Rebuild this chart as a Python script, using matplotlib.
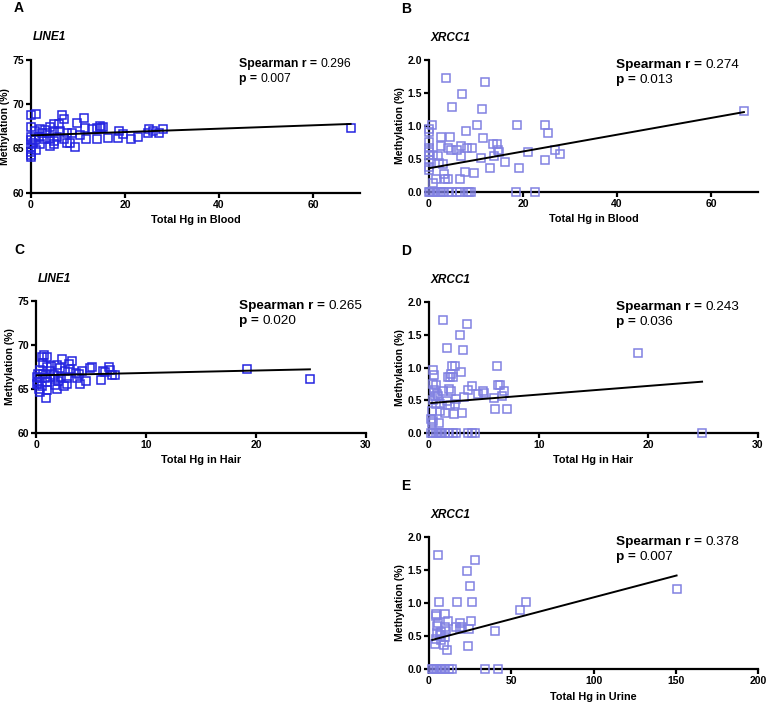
import numpy as np
import matplotlib
matplotlib.use('Agg')
import matplotlib.pyplot as plt

plt.rcParams['font.family'] = ['Liberation Sans', 'DejaVu Sans']

# ---- data ----
# A: LINE1 vs total Hg in blood
a_x = [1.1, 0.1, 6.7, 7.0, 11.3, 9.8, 0.1, 4.8, 5.9, 4.1, 11.5, 13.0, 14.1, 14.7, 15.3, 14.8,
       1.9, 3.0, 0.9, 2.3, 3.4, 4.8, 6.2, 18.8, 25.0, 28.1, 25.9, 68.0, 7.7, 8.7, 10.5, 19.5,
       24.8, 27.3, 0.1, 1.6, 4.1, 7.0, 11.6, 14.1, 16.3, 18.5, 21.3, 22.7, 0.1, 0.5, 1.9, 4.1,
       4.8, 7.7, 8.2, 9.3, 0.0, 1.1, 0.1, 0.1, 0.0, 4.8, 5.5, 2.7, 0.9]
a_y = [68.85, 68.7, 68.7, 68.25, 68.4, 67.9, 67.4, 67.7, 67.7, 67.4, 67.3, 67.2, 67.25, 67.5, 67.4, 67.3,
       67.2, 67.05, 66.9, 66.75, 66.75, 66.9, 66.9, 66.95, 67.15, 67.15, 67.0, 67.3, 66.75, 66.7, 66.5, 66.6,
       66.75, 66.7, 66.3, 66.3, 66.1, 66.1, 66.1, 66.1, 66.2, 66.2, 66.0, 66.3, 65.9, 65.6, 65.5, 65.3,
       65.5, 65.6, 65.6, 65.1, 65.2, 64.8, 64.6, 64.05, 64.2, 65.8, 66.3, 66.1, 65.9]

# B: XRCC1 vs total Hg in blood
b_x = [3.6, 11.9, 7.1, 4.8, 11.3, 67.0, 0.7, 10.3, 18.7, 24.7, 25.4, 7.8, 2.5, 4.5, 11.5,
       2.5, 6.8, 4.1, 4.7, 5.9, 8.0, 9.2, 13.6, 14.4, 14.6, 14.9, 13.8, 26.9, 27.8, 21.1,
       0.85, 1.98, 2.1, 3.0, 11.0, 6.9, 16.2, 24.7, 19.2, 12.9, 3.1, 7.6, 9.6, 3.5, 4.1,
       1.4, 6.5, 0.9, 0.0, 0.0, 0.0, 0.0, 0.0, 0.0, 0.0, 0.0, 0.0,
       0.0, 0.3, 0.6, 1.0, 1.5, 2.0, 2.5, 3.0, 4.0, 5.0, 6.0, 6.5, 8.0, 8.5, 9.0, 18.5, 22.5]
b_y = [1.72, 1.66, 1.49, 1.29, 1.26, 1.22, 1.01, 1.02, 1.01, 1.02, 0.90, 0.92, 0.84, 0.83, 0.82,
       0.69, 0.70, 0.67, 0.64, 0.63, 0.66, 0.66, 0.72, 0.72, 0.64, 0.60, 0.54, 0.64, 0.58, 0.60,
       0.56, 0.54, 0.44, 0.43, 0.51, 0.55, 0.46, 0.49, 0.37, 0.36, 0.28, 0.30, 0.29, 0.20, 0.20,
       0.20, 0.19, 0.13, 0.96, 0.91, 0.76, 0.66, 0.60, 0.56, 0.48, 0.38, 0.33,
       0.0, 0.0, 0.0, 0.0, 0.0, 0.0, 0.0, 0.0, 0.0, 0.0, 0.0, 0.0, 0.0, 0.0, 0.0, 0.0, 0.0]

# C: LINE1 vs total Hg in hair
c_x = [0.76, 0.5, 1.0, 2.4, 3.3, 3.0, 0.67, 0.97, 1.4, 1.9, 2.2, 3.1, 4.9, 5.1, 6.6, 19.2,
       4.2, 6.1, 6.3, 6.75, 0.36, 1.3, 2.6, 3.6, 3.9, 7.2, 6.9, 0.2, 0.67, 1.6, 2.3, 2.8,
       0.36, 0.8, 1.3, 1.7, 3.7, 4.5, 5.9, 24.9, 0.2, 0.97, 2.0, 4.0, 2.8, 1.7, 2.55, 0.5,
       0.3, 0.97, 1.9, 0.36, 0.9, 0.1, 0.1]
c_y = [68.84, 68.6, 68.6, 68.4, 68.2, 67.8, 67.9, 67.55, 67.6, 67.7, 67.4, 67.25, 67.4, 67.5, 67.5, 67.3,
       67.1, 67.1, 66.9, 67.2, 67.2, 67.0, 67.0, 66.8, 66.7, 66.6, 66.6, 66.7, 66.7, 66.6, 66.4, 66.2,
       66.2, 66.2, 66.35, 66.1, 66.2, 65.95, 66.0, 66.15, 65.85, 65.75, 65.95, 65.6, 65.55, 65.4, 65.3, 65.3,
       65.0, 64.85, 65.0, 64.65, 64.0, 65.6, 66.4]

# D: XRCC1 vs total Hg in hair
d_x = [1.27, 3.5, 2.85, 1.64, 3.1, 19.1, 0.36, 0.45, 2.1, 2.4, 6.2, 2.9, 2.2, 1.73, 1.9, 2.0,
       0.36, 0.67, 6.3, 6.5, 3.9, 1.8, 2.0, 1.3, 0.5, 6.85, 3.6, 4.9, 5.06, 4.45, 0.58, 0.82,
       0.76, 6.7, 3.2, 5.9, 1.67, 0.36, 2.5, 2.35, 0.67, 1.0, 1.9, 0.3, 1.0, 6.0, 7.1, 1.45,
       2.3, 3.0, 0.2, 0.36, 0.27, 0.9,
       0.2, 0.4, 0.6, 0.8, 1.0, 1.2, 1.5, 1.8, 2.2, 2.5, 3.6, 3.9, 4.2, 24.9]
d_y = [1.72, 1.66, 1.49, 1.30, 1.27, 1.22, 0.96, 0.89, 1.03, 1.03, 1.02, 0.93, 0.85, 0.85, 0.86, 0.90,
       0.75, 0.73, 0.73, 0.73, 0.72, 0.67, 0.64, 0.64, 0.66, 0.64, 0.66, 0.64, 0.61, 0.60, 0.57, 0.56,
       0.60, 0.57, 0.55, 0.54, 0.49, 0.51, 0.52, 0.45, 0.45, 0.45, 0.42, 0.34, 0.34, 0.36, 0.37, 0.31,
       0.29, 0.30, 0.22, 0.19, 0.15, 0.15,
       0.0, 0.0, 0.0, 0.0, 0.0, 0.0, 0.0, 0.0, 0.0, 0.0, 0.0, 0.0, 0.0, 0.0]

# E: XRCC1 vs total Hg in urine
e_x = [5.5, 27.7, 23.2, 25.1, 150.5, 6.1, 16.8, 26.3, 59.0, 55.2, 4.0, 4.4, 9.5, 5.5, 11.5, 25.7,
       18.8, 4.85, 9.9, 16.6, 19.8, 18.6, 24.2, 7.5, 10.1, 4.85, 40.2, 6.5, 9.7, 4.4, 7.5, 3.4,
       9.1, 23.8, 10.9,
       2, 3, 4, 5, 6, 7, 8, 10, 12, 14, 34, 42]
e_y = [1.72, 1.65, 1.48, 1.26, 1.21, 1.02, 1.02, 1.01, 1.02, 0.90, 0.84, 0.81, 0.83, 0.70, 0.72, 0.73,
       0.69, 0.65, 0.64, 0.64, 0.64, 0.61, 0.61, 0.56, 0.58, 0.54, 0.58, 0.51, 0.49, 0.46, 0.44, 0.38,
       0.37, 0.35, 0.29,
       0, 0, 0, 0, 0, 0, 0, 0, 0, 0, 0, 0]

# regression lines: (intercept, slope)
fit_a = (66.45, 0.019)
fit_b = (0.36, 0.0127)
fit_c = (66.55, 0.0275)
fit_d = (0.455, 0.0132)
fit_e = (0.428, 0.00657)

stats = {'A': ('0.296', '0.007'), 'B': ('0.274', '0.013'), 'C': ('0.265', '0.020'),
         'D': ('0.243', '0.036'), 'E': ('0.378', '0.007')}

W, H = 767, 702
fig = plt.figure(figsize=(W / 100, H / 100), dpi=100)

dark = '#2424e0'
light = '#8181e2'

panels = [
    # letter, gene, x, y, fit, xlim, xticks, ylim, yticks, xlabel, color,
    # box in px (left, top, right, bottom), stats font size, stats x, letter x
    ('A', 'LINE1', a_x, a_y, fit_a, (0, 70), [0, 20, 40, 60], (60, 75), [60, 65, 70, 75],
     'Total Hg in Blood', dark, (31, 59.5, 360, 192.7), 8.8, 0.632, 14),
    ('B', 'XRCC1', b_x, b_y, fit_b, (0, 70), [0, 20, 40, 60], (0, 2), [0, 0.5, 1.0, 1.5, 2.0],
     'Total Hg in Blood', light, (429, 60, 758, 192), 9.7, 0.568, 401),
    ('C', 'LINE1', c_x, c_y, fit_c, (0, 30), [0, 10, 20, 30], (60, 75), [60, 65, 70, 75],
     'Total Hg in Hair', dark, (36, 301, 366, 433), 9.7, 0.615, 14),
    ('D', 'XRCC1', d_x, d_y, fit_d, (0, 30), [0, 10, 20, 30], (0, 2), [0, 0.5, 1.0, 1.5, 2.0],
     'Total Hg in Hair', light, (429, 302, 758, 433), 9.7, 0.568, 401),
    ('E', 'XRCC1', e_x, e_y, fit_e, (0, 200), [0, 50, 100, 150, 200], (0, 2), [0, 0.5, 1.0, 1.5, 2.0],
     'Total Hg in Urine', light, (429, 537, 758, 669), 9.7, 0.568, 401),
]

for letter, gene, x, y, fit, xlim, xt, ylim, yt, xlab, col, box, fs, sx, lx in panels:
    l, t, r, b = box
    ax = fig.add_axes([l / W, 1 - b / H, (r - l) / W, (b - t) / H])
    ax.plot(x, y, 's', ms=6.2, mfc='none', mec=col, mew=1.1, clip_on=False, zorder=3)
    xs = np.array([min(x), max(x)])
    ax.plot(xs, fit[0] + fit[1] * xs, color='black', lw=1.4, zorder=4)
    ax.set_xlim(*xlim)
    ax.set_ylim(*ylim)
    ax.set_xticks(xt)
    ax.set_yticks(yt)
    if ylim[1] == 2:
        ax.set_yticklabels(['%.1f' % v for v in yt])
    for s in ['top', 'right']:
        ax.spines[s].set_visible(False)
    for s in ['left', 'bottom']:
        ax.spines[s].set_linewidth(1.6)
    ax.tick_params(width=1.6, length=3.5, labelsize=7.5, pad=1.5)
    for lab in ax.get_xticklabels() + ax.get_yticklabels():
        lab.set_fontweight('bold')
    ax.set_xlabel(xlab, fontsize=7.8, fontweight='bold', labelpad=4)
    ax.set_ylabel('Methylation (%)', fontsize=7.5, fontweight='bold', labelpad=2)

    # stats: bold label followed by a regular number, two lines
    r_val, p_val = stats[letter]
    t1 = ax.text(sx, 1.01, 'Spearman r = ', transform=ax.transAxes, fontsize=fs,
                 fontweight='bold', va='top', ha='left')
    ax.annotate(r_val, xy=(1, 0), xycoords=t1, fontsize=fs, va='bottom', ha='left')
    t2 = ax.annotate('p = ', xy=(0, 0), xycoords=t1, xytext=(0, -2.2),
                     textcoords='offset points', fontsize=fs, fontweight='bold',
                     va='top', ha='left')
    ax.annotate(p_val, xy=(1, 0), xycoords=t2, fontsize=fs, va='bottom', ha='left')

    fig.text((l + 2) / W, 1 - (t - 22) / H, gene, fontsize=8.5, fontweight='bold',
             fontstyle='italic', va='center', ha='left')
    fig.text(lx / W, 1 - (t - 51) / H, letter, fontsize=10, fontweight='bold',
             va='center', ha='left')

fig.savefig('out.png', dpi=100)
